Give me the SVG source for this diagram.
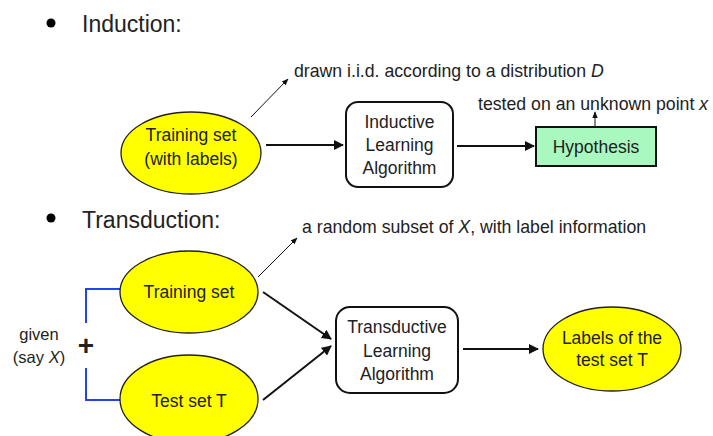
<svg xmlns="http://www.w3.org/2000/svg" width="713" height="436" viewBox="0 0 713 436">
<style>
text{font-family:"Liberation Sans",Arial,sans-serif;fill:#222;}
.h{font-size:23px;}
.n{font-size:17.5px;text-anchor:middle;}
.a{font-size:17.7px;}
.ell{fill:#FFFF00;stroke:#222;stroke-width:1.3;}
.box{fill:#fff;stroke:#111;stroke-width:2;}
.c{stroke:#111;stroke-width:2;fill:none;marker-end:url(#ah);}
.t{stroke:#111;stroke-width:1;fill:none;marker-end:url(#as);}
.br{stroke:#2244EE;stroke-width:2;fill:none;}
</style>
<defs>
<marker id="ah" viewBox="0 0 10 10" refX="9" refY="5" markerWidth="10" markerHeight="10" orient="auto" markerUnits="userSpaceOnUse">
<path d="M0,0 L10,5 L0,10 z" fill="#111"/>
</marker>
<marker id="as" viewBox="0 0 10 10" refX="9" refY="5" markerWidth="7" markerHeight="7" orient="auto" markerUnits="userSpaceOnUse">
<path d="M0,1 L10,5 L0,9 z" fill="#111"/>
</marker>
</defs>
<rect width="713" height="436" fill="#fff"/>

<g id="heading-induction">
<circle cx="51" cy="23" r="4.5" fill="#000"/>
<text class="h" x="82" y="32">Induction:</text>
</g>
<g id="heading-transduction">
<circle cx="51" cy="218" r="4.5" fill="#000"/>
<text class="h" x="82" y="228">Transduction:</text>
</g>

<g id="connectors">
<line class="c" x1="266" y1="145" x2="343" y2="145"/>
<line class="c" x1="457" y1="146" x2="534" y2="146"/>
<line class="t" x1="251" y1="117" x2="288" y2="79"/>
<line class="t" x1="595" y1="127" x2="595" y2="112"/>
<line class="t" x1="258" y1="277" x2="297" y2="238"/>
<line class="c" x1="263" y1="292" x2="331" y2="339"/>
<line class="c" x1="263" y1="400" x2="331" y2="346"/>
<line class="c" x1="463" y1="349" x2="538" y2="349"/>
<path class="br" d="M120,289 H86 V323"/>
<path class="br" d="M86,368 V400 H120"/>
</g>

<g id="train-ind">
<ellipse class="ell" cx="191" cy="153" rx="70" ry="41"/>
<text class="n" x="191" y="141">Training set</text>
<text class="n" x="191" y="165">(with labels)</text>
</g>
<g id="inductive-alg">
<rect class="box" x="346" y="102" width="107" height="85" rx="12"/>
<text class="n" x="399.5" y="128">Inductive</text>
<text class="n" x="399.5" y="151">Learning</text>
<text class="n" x="399.5" y="174">Algorithm</text>
</g>
<g id="hypothesis">
<rect x="536" y="127" width="120" height="39" fill="#A8F8C0" stroke="#111" stroke-width="2"/>
<text class="n" x="596" y="153">Hypothesis</text>
</g>
<g id="label-iid">
<text class="a" x="294" y="77">drawn i.i.d. according to a distribution <tspan font-style="italic">D</tspan></text>
</g>
<g id="label-tested">
<text class="a" x="478" y="110">tested on an unknown point <tspan font-style="italic">x</tspan></text>
</g>

<g id="train-trans">
<ellipse class="ell" cx="189" cy="292" rx="69" ry="41"/>
<text class="n" x="189" y="298">Training set</text>
</g>
<g id="test-set">
<ellipse class="ell" cx="189" cy="399" rx="69" ry="44"/>
<text class="n" x="189" y="407">Test set T</text>
</g>
<g id="transductive-alg">
<rect class="box" x="336" y="307" width="122" height="86" rx="14"/>
<text class="n" x="397" y="333">Transductive</text>
<text class="n" x="397" y="357">Learning</text>
<text class="n" x="397" y="380">Algorithm</text>
</g>
<g id="labels-test">
<ellipse class="ell" cx="612" cy="349" rx="69" ry="42"/>
<text class="n" x="612" y="344">Labels of the</text>
<text class="n" x="612" y="366">test set T</text>
</g>
<g id="label-subset">
<text class="a" x="302" y="233">a random subset of <tspan font-style="italic">X</tspan>, with label information</text>
</g>
<g id="given">
<text x="39" y="340" font-size="16.5" text-anchor="middle">given</text>
<text x="39" y="363" font-size="16.5" text-anchor="middle">(say <tspan font-style="italic">X</tspan>)</text>
<text x="86" y="355" font-size="28" font-weight="bold" text-anchor="middle">+</text>
</g>
</svg>
